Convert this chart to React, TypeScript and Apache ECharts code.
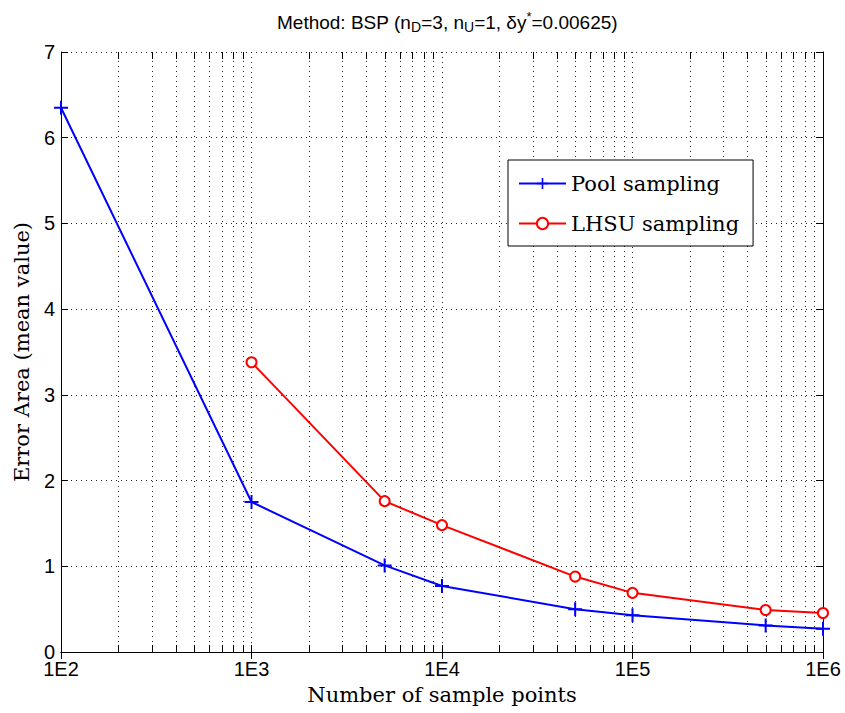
import React, { useEffect, useRef } from "react";
import * as echarts from "echarts";

const sampleCounts = [100, 1000, 5000, 10000, 50000, 100000, 500000, 1000000];
const poolValues = [6.35, 1.75, 1.01, 0.77, 0.5, 0.43, 0.31, 0.27];
const lhsuCounts = [1000, 5000, 10000, 50000, 100000, 500000, 1000000];
const lhsuValues = [3.38, 1.76, 1.48, 0.88, 0.69, 0.49, 0.455];
const seriesNames = ["Pool sampling", "LHSU sampling"];
const xMin = 100;
const xMax = 1000000;
const yMin = 0;
const yMax = 7;

// minor (2..9 x 10^n) log positions for the dotted grid and minor ticks
const minorPositions: number[] = [];
for (let d = xMin; d < xMax; d *= 10) {
  for (let m = 2; m <= 9; m++) minorPositions.push(d * m);
}

const SANS = "'Liberation Sans', Arial, Helvetica, sans-serif";
const SERIF = "'DejaVu Serif', serif";
const dotted = { type: [1, 4] as any, color: "#000", width: 1, opacity: 0.85 };
const plusPath = "path://M-1,-7H1V-1H7V1H1V7H-1V1H-7V-1H-1Z";

export default function App() {
  const ref = useRef<HTMLDivElement>(null);
  useEffect(() => {
    if (!ref.current) return;
    const chart = echarts.init(ref.current, null, { renderer: "svg" });
    const tickFmt = (v: number) => "1E" + Math.round(Math.log10(v));
    chart.setOption({
      animation: false,
      backgroundColor: "#fff",
      title: {
        left: 272,
        top: 5,
        text: "{a|Method: BSP (n}{s|D}{a|=3, n}{s|U}{a|=1, δy}{p|*}{a|=0.00625)}",
        textStyle: {
          fontWeight: "normal",
          rich: {
            a: { fontFamily: SANS, fontSize: 19, fontWeight: "normal", lineHeight: 24, color: "#000", verticalAlign: "middle" },
            s: { fontFamily: SANS, fontSize: 14, fontWeight: "normal", lineHeight: 13, color: "#000", verticalAlign: "bottom" },
            p: { fontFamily: SANS, fontSize: 13, fontWeight: "normal", lineHeight: 11, color: "#000", verticalAlign: "top" },
          },
        },
      },
      grid: { left: 61, right: 22, top: 52, bottom: 61, containLabel: false },
      legend: {
        data: seriesNames,
        orient: "vertical",
        left: 508,
        top: 160,
        padding: [13, 14, 12, 10],
        itemGap: 19,
        itemWidth: 47,
        itemHeight: 14,
        backgroundColor: "#fff",
        borderColor: "#000",
        borderWidth: 1,
        borderRadius: 0,
        textStyle: { fontFamily: SERIF, fontSize: 21, color: "#000" },
      },
      xAxis: [
        {
          type: "log",
          logBase: 10,
          min: xMin,
          max: xMax,
          name: "Number of sample points",
          nameLocation: "middle",
          nameGap: 32,
          nameTextStyle: { fontFamily: SERIF, fontSize: 21, color: "#000" },
          axisLine: { show: true, lineStyle: { color: "#000", width: 1 } },
          axisTick: { show: true, inside: true, length: 7, lineStyle: { color: "#000" } },
          axisLabel: { formatter: tickFmt, fontFamily: SANS, fontSize: 20, color: "#000", margin: 7 },
          splitLine: { show: true, lineStyle: dotted },
        },
        {
          type: "log",
          logBase: 10,
          min: xMin,
          max: xMax,
          position: "top",
          axisLine: { show: true, lineStyle: { color: "#000", width: 1 } },
          axisTick: { show: true, inside: true, length: 7, lineStyle: { color: "#000" } },
          axisLabel: { show: false },
          splitLine: { show: false },
        },
      ],
      yAxis: [
        {
          type: "value",
          min: yMin,
          max: yMax,
          interval: 1,
          name: "Error Area (mean value)",
          nameLocation: "middle",
          nameGap: 28,
          nameTextStyle: { fontFamily: SERIF, fontSize: 21, color: "#000" },
          axisLine: { show: true, lineStyle: { color: "#000", width: 1 } },
          axisTick: { show: true, inside: true, length: 7, lineStyle: { color: "#000" } },
          axisLabel: { fontFamily: SANS, fontSize: 20, color: "#000", margin: 6 },
          splitLine: { show: true, lineStyle: dotted },
        },
        {
          type: "value",
          min: yMin,
          max: yMax,
          interval: 1,
          position: "right",
          axisLine: { show: true, lineStyle: { color: "#000", width: 1 } },
          axisTick: { show: true, inside: true, length: 7, lineStyle: { color: "#000" } },
          axisLabel: { show: false },
          splitLine: { show: false },
        },
      ],
      series: [
        {
          type: "custom",
          name: "minor",
          silent: true,
          z: 1,
          xAxisIndex: 0,
          yAxisIndex: 0,
          encode: { x: 0, y: 1 },
          data: minorPositions.map((v) => [v, yMin]),
          renderItem: (params: any, api: any) => {
            const v = api.value(0);
            const b = api.coord([v, yMin]);
            const t = api.coord([v, yMax]);
            const x = Math.round(b[0]) + 0.5;
            return {
              type: "group",
              children: [
                { type: "line", shape: { x1: x, y1: b[1], x2: x, y2: t[1] }, style: { stroke: "#000", lineWidth: 1, lineDash: [1, 4], opacity: 0.85 } },
                { type: "line", shape: { x1: x, y1: b[1], x2: x, y2: b[1] - 7 }, style: { stroke: "#000", lineWidth: 1 } },
                { type: "line", shape: { x1: x, y1: t[1], x2: x, y2: t[1] + 7 }, style: { stroke: "#000", lineWidth: 1 } },
              ],
            };
          },
        },
        {
          type: "line",
          name: seriesNames[0],
          z: 3,
          data: sampleCounts.map((c, i) => [c, poolValues[i]]),
          symbol: plusPath,
          symbolSize: 14,
          showAllSymbol: true,
          lineStyle: { color: "#0000ff", width: 2 },
          itemStyle: { color: "#0000ff" },
        },
        {
          type: "line",
          name: seriesNames[1],
          z: 3,
          data: lhsuCounts.map((c, i) => [c, lhsuValues[i]]),
          symbol: "emptyCircle",
          symbolSize: 10,
          showAllSymbol: true,
          lineStyle: { color: "#ff0000", width: 2 },
          itemStyle: { color: "#ff0000", borderColor: "#ff0000", borderWidth: 2 },
        },
      ],
    });
    return () => chart.dispose();
  }, []);
  return <div ref={ref} style={{ width: 845, height: 713, position: "absolute", left: 0, top: 0 }} />;
}
